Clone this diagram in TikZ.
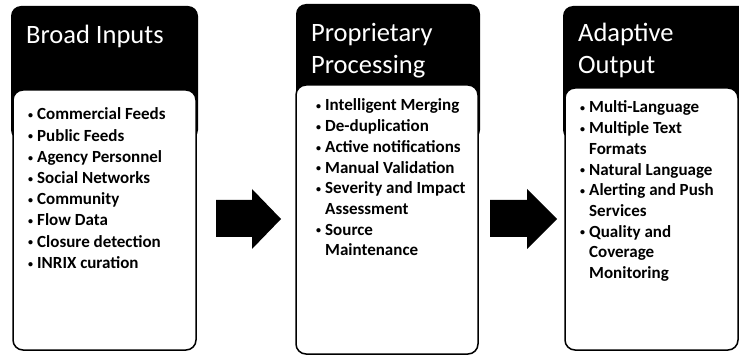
\documentclass[tikz,border=0pt]{standalone}
\usepackage{fontspec}
\setmainfont{Carlito}
\newcommand{\itembul}{\makebox[9pt][l]{\fontsize{10}{10}\selectfont\raisebox{1.2pt}{\textbullet}}}
\newcommand{\itemcont}{\hspace*{9pt}}
\tikzset{
  header/.style={fill=black, draw=none, rounded corners=10pt},
  body/.style={fill=white, draw=black, line width=1.5pt, rounded corners=10pt},
  titletext/.style={text=white, inner sep=0pt, anchor=base west,
    font=\fontsize{26.5}{32}\selectfont},
  itemtext/.style={text=black, inner sep=0pt, anchor=base west,
    font=\bfseries\fontsize{17}{20.7}\selectfont},
  blockarrow/.style={fill=black, draw=none}
}
\begin{document}
\begin{tikzpicture}[x=1pt, y=-1pt]
\useasboundingbox (0,0) rectangle (739,358);

% --- column 1: inputs ---
\path[header] (11,6) rectangle (198,140);
\path[body] (13,90) rectangle (196,350);
\node[titletext] (t1) at (26,44) {Broad Inputs};
\node[itemtext, font=\bfseries\fontsize{17}{21.2}\selectfont] (l1) at (28,120) {\parbox[t]{170pt}{\raggedright
  \itembul Commercial Feeds\\
  \itembul Public Feeds\\
  \itembul Agency Personnel\\
  \itembul Social Networks\\
  \itembul Community\\
  \itembul Flow Data\\
  \itembul Closure detection\\
  \itembul INRIX curation}};

% --- column 2: processing ---
\path[header] (296,4) rectangle (480,140);
\path[body] (296,85) rectangle (478,354);
\node[titletext] (t2) at (311,42) {\parbox[t]{160pt}{\raggedright Proprietary\\Processing}};
\node[itemtext] (l2) at (316,111) {\parbox[t]{165pt}{\raggedright
  \itembul Intelligent Merging\\
  \itembul De-duplication\\
  \itembul Active notifications\\
  \itembul Manual Validation\\
  \itembul Severity and Impact\\
  \itemcont Assessment\\
  \itembul Source\\
  \itemcont Maintenance}};

% --- column 3: output ---
\path[header] (563,6) rectangle (760,140);
\path[body] (565,88) rectangle (738,350);
\node[titletext] (t3) at (578,42) {\parbox[t]{150pt}{\raggedright Adaptive\\Output}};
\node[itemtext] (l3) at (580,113) {\parbox[t]{155pt}{\raggedright
  \itembul Multi-Language\\
  \itembul Multiple Text\\
  \itemcont Formats\\
  \itembul Natural Language\\
  \itembul Alerting and Push\\
  \itemcont Services\\
  \itembul Quality and\\
  \itemcont Coverage\\
  \itemcont Monitoring}};

% --- block arrows between the columns ---
\path[blockarrow] (216,200) -- (252,200) -- (252,189) -- (281,219)
  -- (252,249) -- (252,237) -- (216,237) -- cycle;
\path[blockarrow] (490,200) -- (527,200) -- (527,189) -- (557,219)
  -- (527,249) -- (527,237) -- (490,237) -- cycle;
\end{tikzpicture}
\end{document}
